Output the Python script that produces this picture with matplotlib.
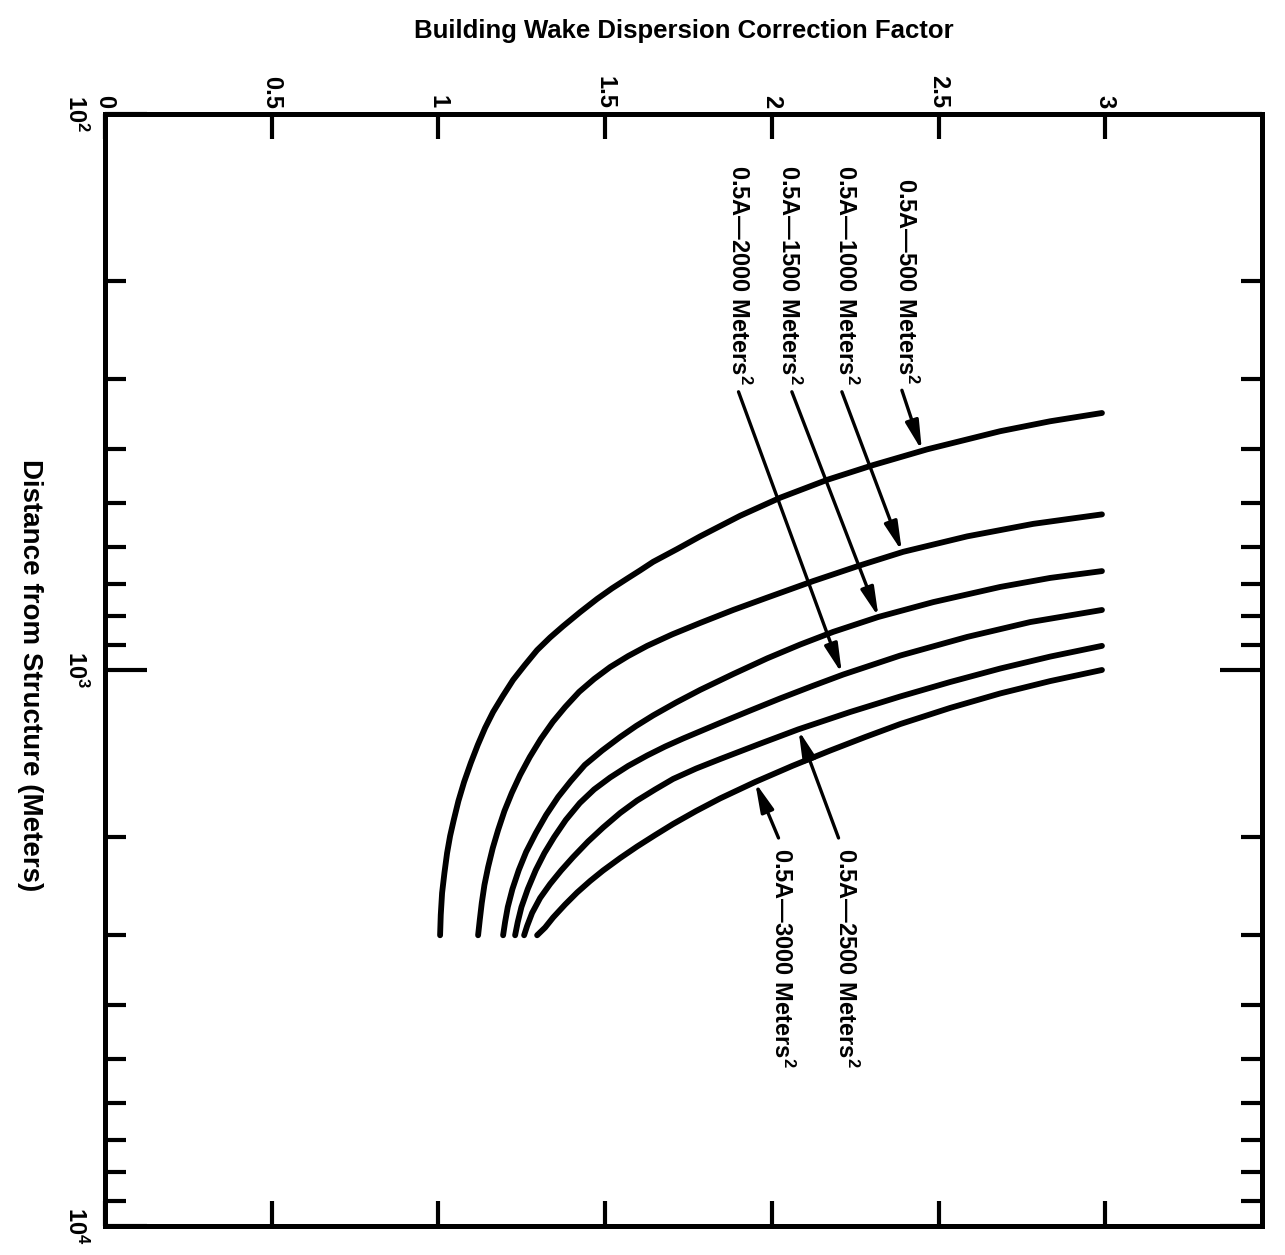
import matplotlib
matplotlib.use("Agg")
import matplotlib.pyplot as plt

plt.rcParams['font.family'] = ['Liberation Sans', 'DejaVu Sans']
plt.rcParams['font.weight'] = 'bold'
plt.rcParams['mathtext.fontset'] = 'custom'
plt.rcParams['mathtext.rm'] = 'Liberation Sans:bold'
plt.rcParams['mathtext.bf'] = 'Liberation Sans:bold'
plt.rcParams['mathtext.default'] = 'bf'

# correction factor (x) vs distance from structure in metres (y)
f_500 = [1.005, 1.007, 1.011, 1.018, 1.026, 1.035, 1.046, 1.060, 1.077, 1.097, 1.118, 1.140,
         1.164, 1.193, 1.224, 1.259, 1.296, 1.335, 1.374, 1.425, 1.476, 1.521, 1.566, 1.605,
         1.644, 1.716, 1.785, 1.905, 2.025, 2.166, 2.304, 2.466, 2.685, 2.835, 2.99]
d_500 = [3000, 2758, 2518, 2318, 2134, 1989, 1861, 1720, 1590, 1470, 1364, 1271,
         1190, 1114, 1042, 980, 921, 874, 834, 787, 745, 713, 685, 662,
         639, 606, 575, 528, 490, 455, 428, 401, 372, 357, 345]

f_1000 = [1.119, 1.124, 1.130, 1.138, 1.149, 1.163, 1.179, 1.198, 1.220, 1.245, 1.274, 1.307,
          1.343, 1.380, 1.422, 1.467, 1.515, 1.569, 1.626, 1.701, 1.785, 1.884, 1.986, 2.124,
          2.259, 2.394, 2.586, 2.784, 2.99]
d_1000 = [3000, 2816, 2625, 2436, 2262, 2090, 1940, 1793, 1664, 1545, 1434, 1331,
          1240, 1166, 1095, 1038, 988, 944, 905, 863, 823, 780, 741, 692,
          650, 613, 575, 546, 525]

f_1500 = [1.194, 1.200, 1.208, 1.222, 1.241, 1.263, 1.292, 1.323, 1.359, 1.397, 1.439, 1.491,
          1.545, 1.593, 1.644, 1.713, 1.785, 1.884, 1.986, 2.085, 2.184, 2.319, 2.484, 2.685,
          2.835, 2.99]
d_1500 = [3000, 2839, 2669, 2477, 2290, 2125, 1965, 1823, 1692, 1584, 1482, 1396,
          1320, 1261, 1207, 1144, 1086, 1017, 953, 900, 854, 803, 755, 709,
          683, 664]

f_2000 = [1.230, 1.238, 1.249, 1.268, 1.292, 1.318, 1.347, 1.382, 1.424, 1.467, 1.515, 1.569,
          1.626, 1.680, 1.734, 1.845, 1.935, 2.025, 2.121, 2.214, 2.385, 2.586, 2.775, 2.99]
d_2000 = [3000, 2839, 2669, 2477, 2290, 2134, 1998, 1861, 1735, 1640, 1561, 1488,
          1425, 1373, 1328, 1245, 1183, 1125, 1069, 1019, 942, 872, 820, 780]

f_2500 = [1.257, 1.266, 1.281, 1.305, 1.335, 1.368, 1.404, 1.449, 1.494, 1.545, 1.596, 1.650,
          1.704, 1.773, 1.845, 1.962, 2.079, 2.235, 2.385, 2.535, 2.685, 2.835, 2.99]
d_2500 = [3000, 2887, 2735, 2571, 2426, 2294, 2170, 2034, 1920, 1808, 1717, 1640,
          1570, 1504, 1446, 1359, 1279, 1190, 1116, 1051, 994, 946, 905]

f_3000 = [1.296, 1.320, 1.344, 1.380, 1.416, 1.455, 1.494, 1.545, 1.596, 1.650, 1.704, 1.773,
          1.845, 1.950, 2.061, 2.175, 2.280, 2.385, 2.535, 2.685, 2.835, 2.99]
d_3000 = [3000, 2905, 2787, 2641, 2513, 2396, 2294, 2179, 2077, 1981, 1892, 1793,
          1702, 1590, 1488, 1396, 1320, 1251, 1170, 1102, 1047, 1000]

areas = [500, 1000, 1500, 2000, 2500, 3000]
factor_ticks = [0, 0.5, 1, 1.5, 2, 2.5, 3]
factor_labels = ['0', '0.5', '1', '1.5', '2', '2.5', '3']
dist_ticks = [1e2, 1e3, 1e4]
dist_labels = [r'10$^2$', r'10$^3$', r'10$^4$']

curves = [(f_500, d_500), (f_1000, d_1000), (f_1500, d_1500),
          (f_2000, d_2000), (f_2500, d_2500), (f_3000, d_3000)]

fig = plt.figure(figsize=(12.85, 12.55), dpi=100)
ax = fig.add_axes([0.0817, 0.0231, 0.9004, 0.8861])

for f, d in curves:
    ax.plot(f, d, color='black', lw=4.2, solid_capstyle='round',
            solid_joinstyle='round')

ax.set_yscale('log')
ax.set_xlim(0, 3.47)
ax.set_ylim(1e4, 1e2)

for s in ax.spines.values():
    s.set_linewidth(3.6)

ax.set_xticks(factor_ticks)
ax.set_xticklabels(factor_labels)
ax.set_yticks(dist_ticks)
ax.set_yticklabels(dist_labels)

ax.tick_params(axis='x', which='major', direction='in', top=True, bottom=True,
               labeltop=True, labelbottom=False, length=18, width=3,
               labelsize=17, labelrotation=-90, pad=4)
ax.tick_params(axis='y', which='major', direction='in', left=True, right=True,
               length=30, width=3, labelsize=17, labelrotation=-90, pad=12)
ax.tick_params(axis='y', which='minor', direction='in', left=True, right=True,
               length=15, width=3)
for lab in ax.get_yticklabels():
    lab.set_va('center')

ax.xaxis.set_label_position('top')
ax.set_xlabel('Building Wake Dispersion Correction Factor', fontsize=18.5,
              fontweight='bold', va='center')
ax.xaxis.set_label_coords(0.5, 1.075)
ax.set_ylabel('Distance from Structure (Meters)', fontsize=20,
              fontweight='bold', rotation=-90, va='center', ha='center')
ax.yaxis.set_label_coords(-0.065, 0.495)

# labels above the curves (text end, arrow tail, arrow tip)
upper = [(2.40, 307, (2.39, 314), (2.45, 403)),
         (2.22, 307, (2.21, 316), (2.39, 612)),
         (2.05, 307, (2.06, 316), (2.32, 803)),
         (1.90, 307, (1.90, 316), (2.21, 1015))]
lower = [(2.22, 2090, (2.20, 2005), (2.08, 1283)),
         (2.03, 2090, (2.02, 2005), (1.95, 1593))]

arrow = dict(arrowstyle='-|>,head_length=0.7,head_width=0.16', lw=2.4,
             color='black', shrinkA=0, shrinkB=0, mutation_scale=25)

for (tx, ty, tail, tip), a in zip(upper, areas[:4]):
    ax.text(tx, ty, '0.5A\u2014%d Meters$^2$' % a, rotation=-90,
            ha='center', va='bottom', fontsize=17, fontweight='bold')
    ax.annotate('', xy=tip, xytext=tail, arrowprops=arrow)

for (tx, ty, tail, tip), a in zip(lower, areas[4:]):
    ax.text(tx, ty, '0.5A\u2014%d Meters$^2$' % a, rotation=-90,
            ha='center', va='top', fontsize=17, fontweight='bold')
    ax.annotate('', xy=tip, xytext=tail, arrowprops=arrow)

plt.savefig('out.png', dpi=100)
print("wrote out.png")
